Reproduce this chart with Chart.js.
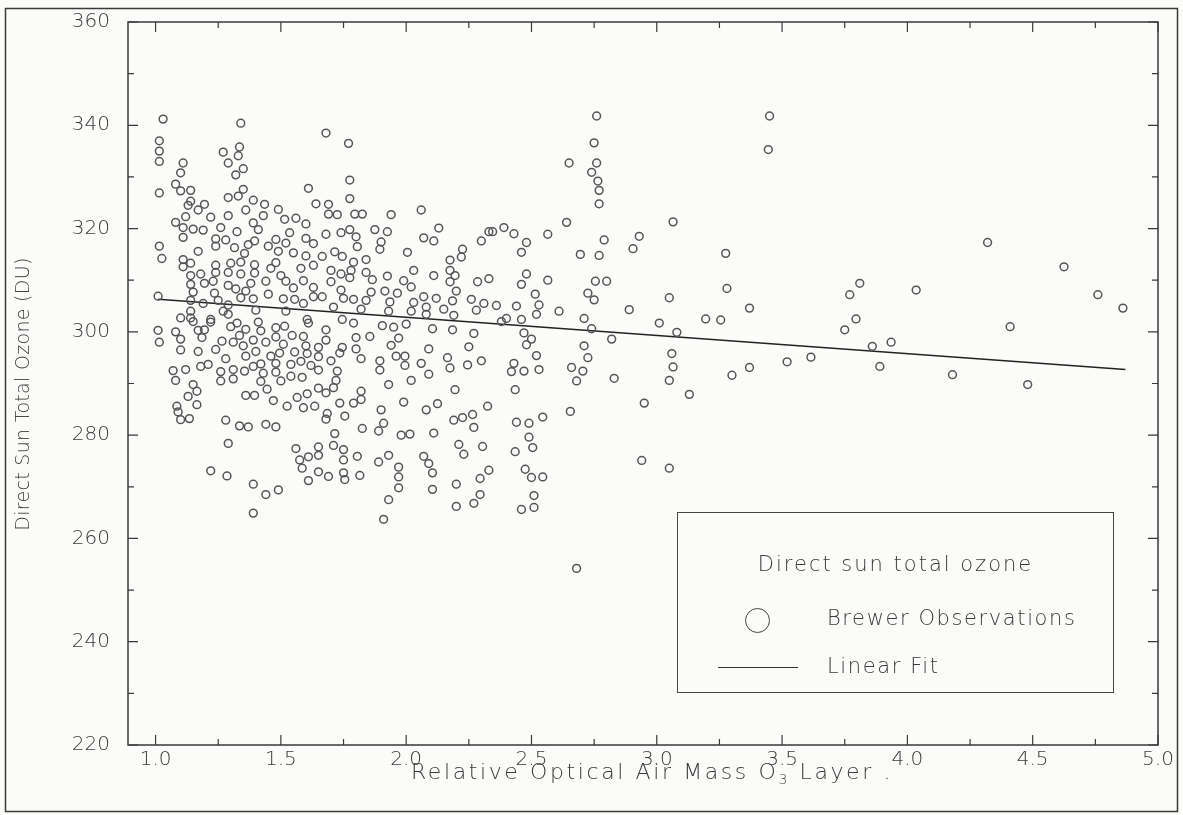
<!DOCTYPE html>
<html>
<head>
<meta charset="utf-8">
<script src="https://cdn.jsdelivr.net/npm/chart.js@4.4.1/dist/chart.umd.min.js"></script>
<style>
  html, body { margin: 0; padding: 0; background: #fbfbfa; }
  #wrap { position: relative; width: 1183px; height: 815px; font-family: "DejaVu Sans", sans-serif; font-weight: 200; color: #3a3a3a; }
  #legend {
    position: absolute; left: 677px; top: 512px; width: 437px; height: 181px;
    border: 1.5px solid #444; box-sizing: border-box; font-size: 21px;
  }
  #legend .title { position: absolute; left: 0; width: 100%; top: 39px; text-align: center; letter-spacing: 2px; }
  #legend .row { position: absolute; left: 149px; letter-spacing: 1.6px; }
  #legend .circ { position: absolute; left: 67px; top: 95px; width: 23px; height: 23px; border: 1.5px solid #444; border-radius: 50%; }
  #legend .line { position: absolute; left: 40px; top: 154px; width: 80px; border-top: 1.5px solid #333; }
  #xtitle { position: absolute; left: 302px; width: 700px; top: 759px; text-align: center; font-size: 22px; letter-spacing: 2.6px; white-space: nowrap; }
  #ytitle { position: absolute; left: 22px; top: 394px; width: 400px; margin-left: -200px; text-align: center; font-size: 19px; letter-spacing: 0.3px;
            transform: translateY(-50%) rotate(-90deg); white-space: nowrap; }
</style>
</head>
<body>
<div id="wrap">
  <canvas id="chart" width="1183" height="815"></canvas>
  <div id="xtitle">Relative Optical Air Mass O<sub style="font-size:14px">3</sub> Layer .</div>
  <div id="ytitle">Direct Sun Total Ozone (DU)</div>
  <div id="legend">
    <div class="title">Direct sun total ozone</div>
    <div class="circ"></div>
    <div class="row" style="top:93px">Brewer Observations</div>
    <div class="line"></div>
    <div class="row" style="top:141px">Linear Fit</div>
  </div>
</div>
<script>
// relative optical air mass of the O3 layer
const airMass = [
  1.03,1.34,1.015,1.015,1.015,1.27,1.335,1.33,1.29,1.35,1.32,1.11,1.10,1.015,1.08,1.10,1.14,1.29,1.33,1.35,
  1.39,1.61,1.64,1.14,1.13,1.195,1.17,1.435,1.36,1.49,1.12,1.08,1.22,1.29,1.43,1.515,1.56,1.60,1.11,1.15,
  1.19,1.26,1.39,1.41,1.325,1.11,1.24,1.28,1.395,1.535,1.60,1.63,1.48,1.45,1.52,1.015,1.24,1.315,1.37,1.49,
  1.025,1.17,1.355,1.55,1.60,1.11,1.14,1.24,1.30,1.34,1.395,1.48,1.11,1.24,1.29,1.34,1.395,1.46,1.58,1.63,
  1.14,1.18,1.23,1.195,1.14,1.29,1.32,1.36,1.38,1.44,1.50,1.52,1.55,1.59,1.63,1.15,1.235,1.45,1.51,1.555,
  1.63,1.01,1.14,1.19,1.25,1.29,1.34,1.39,1.59,1.14,1.27,1.40,1.52,1.10,1.14,1.22,1.29,1.605,
  1.01,1.015,1.08,1.10,1.15,1.17,1.195,1.185,1.22,1.10,1.17,1.24,1.265,1.28,1.30,1.325,1.31,1.335,1.36,1.35,
  1.39,1.40,1.36,1.41,1.42,1.44,1.46,1.48,1.48,1.515,1.51,1.545,1.555,1.495,1.59,1.60,1.605,1.61,1.65,1.65,
  1.58,1.07,1.12,1.08,1.18,1.21,1.26,1.26,1.31,1.31,1.355,1.39,1.42,1.43,1.42,1.445,1.48,1.48,1.50,1.54,
  1.54,1.585,1.62,1.65,1.65,1.605,1.565,1.525,1.59,1.635,1.47,1.36,1.395,1.15,1.165,1.13,1.165,1.085,1.09,1.10,
  1.135,1.28,1.335,1.37,1.44,1.48,1.29,1.56,1.575,1.585,1.61,1.65,1.65,1.65,1.61,1.22,1.285,1.39,1.44,1.49,1.39,
  1.68,1.77,1.775,1.775,1.69,1.69,1.725,1.795,1.825,1.94,2.06,2.13,1.68,1.74,1.775,1.80,1.875,1.925,1.90,1.895,
  1.805,2.07,2.11,2.30,2.33,1.665,1.715,1.745,1.79,1.84,2.005,2.225,2.22,2.175,1.70,1.74,1.78,1.775,1.84,1.865,
  1.925,2.03,2.11,2.175,2.195,2.175,2.285,2.33,1.70,1.74,1.665,1.75,1.79,1.84,1.86,1.915,1.965,1.99,2.02,2.07,
  2.12,2.185,2.20,2.26,2.31,1.71,1.82,1.935,2.03,2.08,2.15,2.08,1.93,2.02,2.19,2.28,
  1.745,1.79,1.68,1.68,1.80,1.855,1.905,1.95,2.00,1.97,1.94,1.745,1.735,1.80,1.82,1.70,1.725,1.895,1.895,1.96,
  1.995,1.995,2.06,2.09,2.105,2.185,2.27,2.25,2.165,2.175,2.245,2.30,2.09,2.02,1.93,1.72,1.71,1.68,1.82,1.82,
  1.79,1.735,1.755,1.685,1.68,1.90,1.99,2.08,2.125,2.195,2.325,2.19,2.225,2.265,2.27,1.825,1.91,1.89,1.98,2.015,
  2.11,1.715,1.71,1.75,1.75,1.805,1.89,1.93,1.97,2.07,2.09,2.105,2.21,2.23,2.305,1.69,1.75,1.755,1.815,1.97,
  1.97,2.105,2.20,2.295,2.295,2.27,2.20,1.93,1.91,
  2.76,2.75,2.65,2.76,2.74,2.765,2.77,2.77,2.64,2.345,2.39,2.43,2.565,2.79,2.93,2.905,2.48,2.46,2.695,2.77,
  2.48,2.46,2.565,2.755,2.80,2.725,2.75,2.515,2.53,2.36,2.44,2.61,2.52,2.89,2.71,2.40,2.46,
  2.38,2.47,2.50,2.48,2.74,2.82,3.01,2.71,2.725,2.52,2.43,2.42,2.47,2.53,2.66,2.705,2.68,2.83,2.435,2.95,
  2.655,2.44,2.49,2.545,2.49,2.505,2.435,2.33,2.475,2.50,2.545,2.51,2.46,2.51,2.94,2.68,
  3.45,3.445,3.065,3.275,3.28,3.05,3.37,3.195,3.255,
  3.08,3.06,3.065,3.05,3.13,3.30,3.37,3.52,3.615,3.75,3.05,
  4.32,4.625,4.035,3.81,3.77,3.795,4.76,4.86,4.41,3.86,3.935,3.89,4.18,4.48
];
// direct sun total ozone, DU
const ozone = [
  341.2,340.4,337,335,333,334.8,335.8,334.1,332.7,331.6,330.4,332.7,330.8,326.9,328.6,327.3,327.4,326,326.3,327.6,
  325.5,327.8,324.8,325.3,324.5,324.7,323.6,324.7,323.6,323.7,322.3,321.2,322.2,322.5,322.5,321.8,322,320.9,320.2,319.9,
  319.7,320.2,321.1,319.8,319.4,318.3,318,317.8,317.6,319.2,318.1,317.1,317.9,316.6,317.2,316.6,316.6,316.3,316.9,315.6,
  314.2,315.6,315.2,315.3,314.7,314,313.3,312.9,313.3,313.5,313,313.4,312.6,311.5,311.5,311.2,311.4,312.3,312.3,312.9,
  310.9,311.2,309.8,309.4,309.2,309,308.3,307.9,309.4,309.8,310.9,309.8,308.5,309.9,308.6,307.7,307.5,307.3,306.4,306.3,
  306.8,306.9,306.1,305.5,306.1,305.2,306.6,306.4,305.5,304,304,304.2,304,302.7,302.7,302.4,303.4,302.4,
  300.3,298,300,298.6,302,300.3,300.4,298.9,301.9,296.5,296.2,296.6,298.2,294.8,301,301.7,298,299.3,300.5,297.3,
  298.4,296.2,295.3,301.9,300.2,298,295.3,300.8,299,301.1,297.6,299.3,296.1,295.9,299.1,297.3,295.8,301.7,297,295.2,
  294.3,292.5,292.7,290.6,293.3,293.7,292.3,290.5,292.7,290.9,292.4,293.3,293.8,292,290.4,288.9,293.9,292.2,290.5,293.7,
  291.4,291.2,293.5,292.6,289.1,288,287.3,285.6,285.3,285.6,286.7,287.7,287.7,289.8,288.5,287.5,285.9,285.6,284.5,283,
  283.2,282.9,281.8,281.6,282.1,281.6,278.4,277.4,275.2,273.6,275.8,277.7,276.1,272.9,271.2,273.1,272.1,270.5,268.5,269.4,264.9,
  338.5,336.5,329.4,325.8,324.7,322.8,322.7,322.8,322.8,322.7,323.6,320.1,318.9,319.2,319.8,318.4,319.8,319.4,317.4,316,
  316.5,318.2,317.6,317.6,319.4,314.6,315.5,314.6,313.5,314,315.4,316,314.5,313.9,311.9,311.2,311.9,310.5,311.5,310.1,
  310.8,311.9,310.9,311.9,310.9,309.7,309.7,310.3,309.7,308.1,306.8,306.5,306.3,306.1,307.7,307.9,307.5,309.9,308.7,306.8,
  306.5,306,307.9,306.3,305.5,304.8,304.4,305.8,305.7,304.8,304.4,303.4,304,304,303.2,304.2,
  302.4,301.7,300.4,298.4,298.9,299.1,301.2,300.9,301.5,298.8,297.4,297,295.9,296.7,294.8,294.4,292.4,294.4,292.6,295.3,
  295.3,293.5,293.9,296.7,300.6,300.4,299.7,297.1,295,293,293.6,294.4,291.8,290.6,289.8,290.6,289.2,288.2,288.5,286.9,
  286.2,286.2,283.7,284.2,283.1,284.9,286.4,284.9,286.1,288.8,285.6,282.9,283.4,284,281.5,281.3,282.3,280.8,280,280.2,
  280.4,280.3,278,277.2,275.2,275.9,274.8,276.1,273.8,275.9,274.5,272.7,278.2,276.3,277.8,272,272.7,271.4,272.2,271.9,
  269.8,269.5,270.5,271.6,268.5,266.8,266.2,267.5,263.7,
  341.8,336.6,332.7,332.7,330.9,329.2,327.4,324.8,321.2,319.4,320.2,319,318.9,317.8,318.5,316.1,317.3,315.4,315,314.8,
  311.2,309.2,310,309.8,309.8,307.5,306.2,307.3,305.2,305.1,305,304,303.4,304.3,302.6,302.6,302.4,
  302,299.8,298.6,297.5,300.6,298.6,301.7,297.3,295,295.4,293.9,292.3,292.4,292.7,293.1,292.4,290.5,291,288.8,286.2,
  284.6,282.5,282.3,283.5,279.6,277.6,276.8,273.2,273.4,271.8,271.9,268.3,265.6,266,275.1,254.2,
  341.8,335.3,321.3,315.2,308.4,306.6,304.6,302.5,302.3,
  299.9,295.8,293.2,290.6,287.9,291.6,293.1,294.2,295.1,300.4,273.6,
  317.3,312.6,308.1,309.4,307.2,302.5,307.2,304.6,301,297.2,298,293.3,291.7,289.8
];
// linear fit end points
const fitX = [1.01, 4.87];
const fitY = [306.3, 292.7];

const xTicks = [1.0, 1.25, 1.5, 1.75, 2.0, 2.25, 2.5, 2.75, 3.0, 3.25, 3.5, 3.75, 4.0, 4.25, 4.5, 4.75, 5.0];
const xLabels = [1.0, 1.5, 2.0, 2.5, 3.0, 3.5, 4.0, 4.5, 5.0];
const yTicks = [230, 240, 250, 260, 270, 280, 290, 300, 310, 320, 330, 340, 350];
const yLabels = [220, 240, 260, 280, 300, 320, 340, 360];

const ink = '#3a3a3a';
const font = { family: '"DejaVu Sans", sans-serif', size: 20, weight: 200 };

const frame = {
  id: 'frame',
  afterDraw(chart) {
    const { ctx, chartArea: a, scales } = chart;
    ctx.save();
    ctx.strokeStyle = ink;
    ctx.lineWidth = 1.5;
    ctx.strokeRect(a.left, a.top, a.right - a.left, a.bottom - a.top);
    ctx.lineWidth = 1.2;
    ctx.beginPath();
    xTicks.forEach(v => {
      const px = scales.x.getPixelForValue(v);
      const len = xLabels.includes(v) ? 10 : 6;
      ctx.moveTo(px, a.bottom); ctx.lineTo(px, a.bottom - len);
      ctx.moveTo(px, a.top); ctx.lineTo(px, a.top + len);
    });
    yTicks.concat(yLabels).forEach(v => {
      const py = scales.y.getPixelForValue(v);
      const len = yLabels.includes(v) ? 10 : 6;
      ctx.moveTo(a.left, py); ctx.lineTo(a.left + len, py);
      ctx.moveTo(a.right, py); ctx.lineTo(a.right - len, py);
    });
    ctx.stroke();
    // outer border of the figure
    ctx.lineWidth = 1.5;
    ctx.strokeRect(5.5, 8.5, 1172, 803);
    ctx.restore();
  }
};

new Chart(document.getElementById('chart'), {
  type: 'scatter',
  data: {
    datasets: [
      {
        label: 'Brewer Observations',
        data: airMass.map((x, i) => ({ x, y: ozone[i] })),
        pointStyle: 'circle',
        pointRadius: 3.9,
        borderWidth: 1.5,
        borderColor: '#555',
        backgroundColor: 'rgba(0,0,0,0)'
      },
      {
        type: 'line',
        label: 'Linear Fit',
        data: fitX.map((x, i) => ({ x, y: fitY[i] })),
        borderColor: '#222',
        borderWidth: 1.6,
        pointRadius: 0
      }
    ]
  },
  options: {
    responsive: false,
    animation: false,
    layout: { padding: { top: 22, right: 25, left: 0, bottom: 30 } },
    plugins: { legend: { display: false }, tooltip: { enabled: false } },
    scales: {
      x: {
        type: 'linear',
        min: 0.89,
        max: 5.0,
        afterBuildTicks: s => { s.ticks = xLabels.map(v => ({ value: v })); },
        afterFit: s => { s.height = 40; },
        grid: { display: false, drawTicks: false },
        border: { display: false },
        ticks: { color: ink, font, padding: 3, callback: v => v.toFixed(1) }
      },
      y: {
        min: 220,
        max: 360,
        afterBuildTicks: s => { s.ticks = yLabels.map(v => ({ value: v })); },
        afterFit: s => { s.width = 128; },
        grid: { display: false },
        border: { display: false },
        ticks: { color: ink, font, padding: 10 }
      }
    }
  },
  plugins: [frame]
});
</script>
</body>
</html>
